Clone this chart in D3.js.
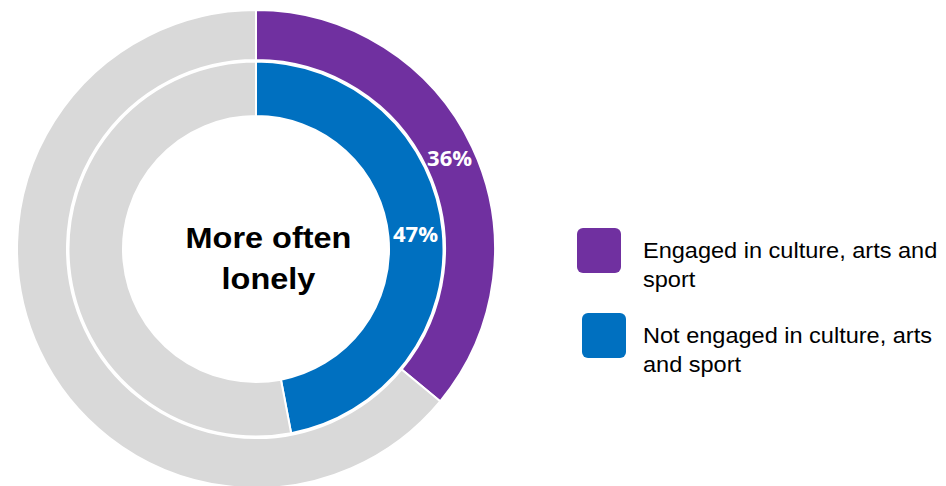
<!DOCTYPE html>
<html>
<head>
<meta charset="utf-8">
<script src="https://cdn.jsdelivr.net/npm/d3@7"></script>
<style>
  html, body { margin: 0; padding: 0; background: #fff; }
  svg { display: block; }
</style>
</head>
<body>
<svg id="chart" width="946" height="486"></svg>
<script>
// Share of people who are more often lonely, by engagement
const series = ["Engaged in culture, arts and sport", "Not engaged in culture, arts and sport"];
const legendLines = [["Engaged in culture, arts and", "sport"], ["Not engaged in culture, arts", "and sport"]];
const values = [36, 47];
const labels = ["36%", "47%"];
const centerTitle = ["More often", "lonely"];
const colors = ["#7030A0", "#0070C0"];
const restColor = "#D9D9D9";

const svg = d3.select("#chart");
const cx = 256, cy = 249;
const rings = [
  { inner: 189, outer: 239 },   // outer ring: engaged
  { inner: 133, outer: 187.5 }  // inner ring: not engaged
];

const pie = d3.pie().sort(null).value(d => d);
const g = svg.append("g").attr("transform", `translate(${cx},${cy})`);

values.forEach((v, i) => {
  const arc = d3.arc().innerRadius(rings[i].inner).outerRadius(rings[i].outer);
  const slices = pie([v, 100 - v]);
  g.append("g").selectAll("path")
    .data(slices)
    .join("path")
    .attr("d", arc)
    .attr("fill", (d, j) => j === 0 ? colors[i] : restColor)
    .attr("stroke", "#fff")
    .attr("stroke-width", 2);

  // value label at the centroid of the coloured slice
  const [lx, ly] = arc.centroid(slices[0]);
  g.append("text")
    .attr("transform", `translate(${lx},${ly}) scale(1.05,1)`)
    .attr("text-anchor", "middle")
    .attr("dominant-baseline", "central")
    .attr("fill", "#fff")
    .attr("font-family", "'Open Sans', 'DejaVu Sans', sans-serif")
    .attr("font-weight", 700)
    .attr("font-size", 21)
    .text(labels[i]);
});

// centre title
svg.append("g")
  .attr("transform", "translate(268.5,0) scale(1.12,1)")
  .append("text")
  .attr("font-family", "'Liberation Sans', Arial, sans-serif")
  .attr("font-weight", 700)
  .attr("font-size", 29)
  .attr("fill", "#000")
  .attr("text-anchor", "middle")
  .selectAll("tspan")
  .data(centerTitle)
  .join("tspan")
  .attr("x", 0)
  .attr("y", (d, i) => 248 + i * 41)
  .text(d => d);

// legend
const legendY = [228, 313];
const legendX = [577, 582];
const legend = svg.append("g");
series.forEach((s, i) => {
  legend.append("rect")
    .attr("x", legendX[i]).attr("y", legendY[i])
    .attr("width", 44).attr("height", 45)
    .attr("rx", 6).attr("ry", 6)
    .attr("fill", colors[i]);
  legend.append("g")
    .attr("transform", "translate(643,0) scale(1.07,1)")
    .append("text")
    .attr("font-family", "'Liberation Sans', Arial, sans-serif")
    .attr("font-size", 22)
    .attr("fill", "#000")
    .selectAll("tspan")
    .data(legendLines[i])
    .join("tspan")
    .attr("x", 0)
    .attr("y", (d, k) => legendY[i] + 30 + k * 29)
    .text(d => d);
});
</script>
</body>
</html>
